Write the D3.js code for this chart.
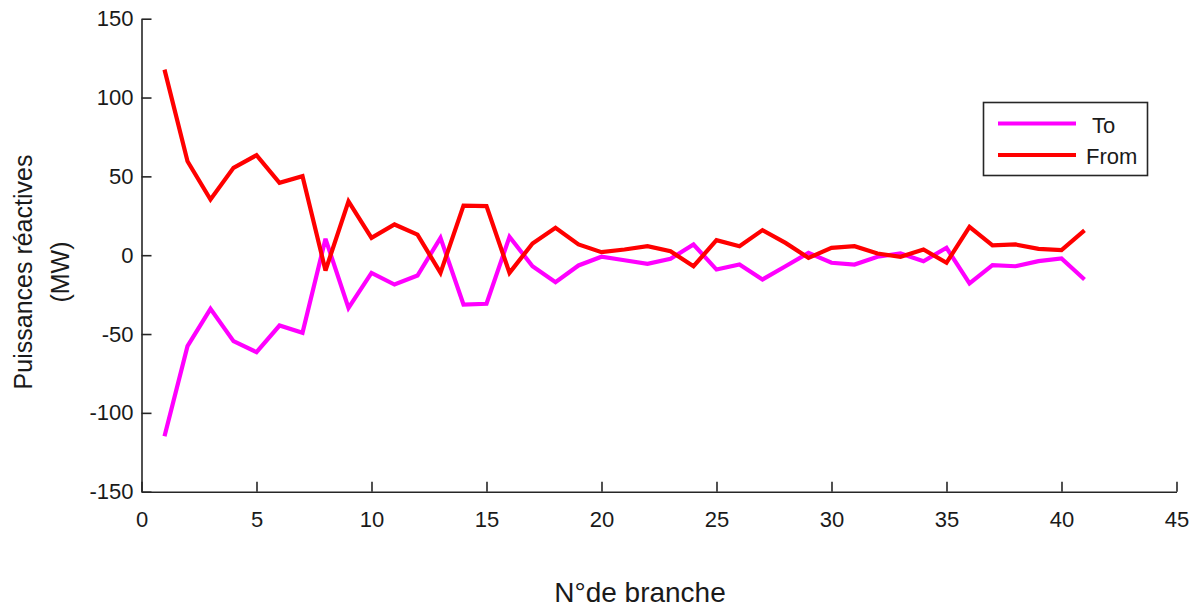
<!DOCTYPE html>
<html>
<head>
<meta charset="utf-8">
<script src="https://cdn.jsdelivr.net/npm/d3@7"></script>
<style>
  html, body { margin: 0; padding: 0; background: #fff; }
  svg { display: block; font-family: "Liberation Sans", Arial, sans-serif; }
</style>
</head>
<body>
<svg id="chart" width="1197" height="606"></svg>
<script>
// Branch numbers 1..41
const branches = [1,2,3,4,5,6,7,8,9,10,11,12,13,14,15,16,17,18,19,20,21,22,23,24,25,26,27,28,29,30,31,32,33,34,35,36,37,38,39,40,41];

// Reactive power at the "To" end of each branch (MW)
const toValues = [-114.8,-57.7,-34,-54.5,-61.5,-44.6,-49.2,10.4,-33.4,-11.2,-18.6,-12.9,11,-31.3,-30.8,11.7,-7,-17.1,-6.5,-1,-3.2,-5.5,-2.3,6.8,-9.1,-5.9,-15.4,-7,1.5,-4.8,-5.9,-1,1.1,-3.8,4.7,-17.9,-6.3,-7,-3.8,-2.1,-15.4];

// Reactive power at the "From" end of each branch (MW)
const fromValues = [117.7,59.6,35.3,55.4,63.4,45.9,50.1,-9.7,34.2,11,19.5,13.1,-11.2,31.5,31.1,-11.2,7.4,17.4,6.8,1.9,3.6,5.7,2.5,-7,9.5,5.7,15.9,7.8,-1.7,4.7,5.7,1.1,-1,3.6,-4.8,18,6.2,6.8,4,3.2,15.7];

const xTicks = [0,5,10,15,20,25,30,35,40,45];
const yTicks = [-150,-100,-50,0,50,100,150];

const seriesNames = ["To", "From"];
const seriesColors = ["#ff00ff", "#ff0000"];

const svg = d3.select("#chart");
const plotLeft = 141.5, plotTop = 18.7, plotRight = 1176.5, plotBottom = 491.7;
const axisColor = "#262626";

const x = d3.scaleLinear().domain([0, 45]).range([plotLeft, plotRight]);
const y = d3.scaleLinear().domain([-150, 150]).range([plotBottom, plotTop]);

// Plain hyphen for negative tick labels
const plainFormat = d => String(d);

// Axes: ticks pointing inward, no box
const xAxis = svg.append("g")
  .attr("transform", `translate(0,${plotBottom})`)
  .call(d3.axisBottom(x).tickValues(xTicks).tickFormat(plainFormat)
    .tickSizeInner(-10).tickSizeOuter(0).tickPadding(20));
const yAxis = svg.append("g")
  .attr("transform", `translate(${plotLeft},0)`)
  .call(d3.axisLeft(y).tickValues(yTicks).tickFormat(plainFormat)
    .tickSizeInner(-10).tickSizeOuter(0).tickPadding(8));

[xAxis, yAxis].forEach(g => {
  g.select(".domain").attr("stroke", axisColor).attr("stroke-width", 1.6);
  g.selectAll(".tick line").attr("stroke", axisColor).attr("stroke-width", 1.6);
  g.selectAll(".tick text")
    .attr("fill", "#1a1a1a")
    .style("font-size", "22px")
    .style("font-family", "'Liberation Sans', Arial, sans-serif");
});
xAxis.selectAll(".tick text").attr("dy", "0.71em");

// Series lines
const line = d3.line()
  .x((d, i) => x(branches[i]))
  .y(d => y(d));

[toValues, fromValues].forEach((vals, k) => {
  svg.append("path")
    .datum(vals)
    .attr("fill", "none")
    .attr("stroke", seriesColors[k])
    .attr("stroke-width", 4.2)
    .attr("stroke-linejoin", "miter")
    .attr("stroke-miterlimit", 3)
    .attr("d", line);
});

// Legend
const legend = svg.append("g");
legend.append("rect")
  .attr("x", 983.5).attr("y", 102.5)
  .attr("width", 164).attr("height", 73)
  .attr("fill", "#fff")
  .attr("stroke", axisColor).attr("stroke-width", 1.6);
const legendRows = [123.5, 155];
const legendTextX = [1092, 1086];
seriesNames.forEach((name, k) => {
  legend.append("line")
    .attr("x1", 998).attr("x2", 1076)
    .attr("y1", legendRows[k]).attr("y2", legendRows[k])
    .attr("stroke", seriesColors[k]).attr("stroke-width", 4.2);
  legend.append("text")
    .attr("x", legendTextX[k]).attr("y", legendRows[k] + 1.5)
    .attr("dominant-baseline", "central")
    .attr("fill", "#1a1a1a")
    .style("font-size", "22px")
    .text(name);
});

// Axis titles
svg.append("text")
  .attr("x", 640).attr("y", 592)
  .attr("text-anchor", "middle")
  .attr("dominant-baseline", "central")
  .attr("fill", "#1a1a1a")
  .style("font-size", "28px")
  .text("N°de branche");

const yTitle = svg.append("text")
  .attr("transform", "translate(0,272) rotate(-90)")
  .attr("text-anchor", "middle")
  .attr("fill", "#1a1a1a")
  .style("font-size", "25px");
yTitle.append("tspan").attr("x", 0).attr("y", 32).text("Puissances réactives");
yTitle.append("tspan").attr("x", 0).attr("y", 69).text("(MW)");
</script>
</body>
</html>
